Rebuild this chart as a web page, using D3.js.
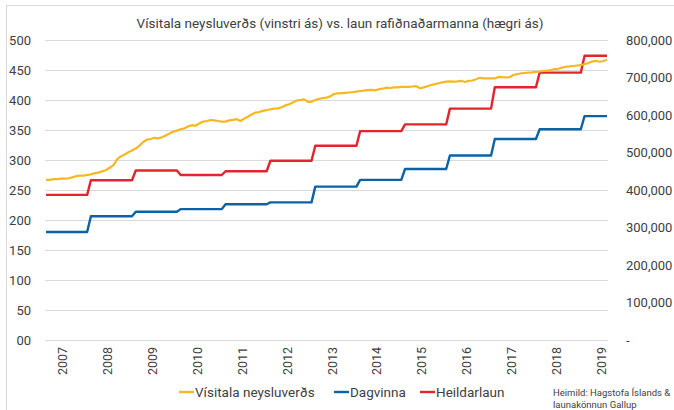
<!DOCTYPE html>
<html>
<head>
<meta charset="utf-8">
<script src="https://cdn.jsdelivr.net/npm/d3@7"></script>
<style>
  body { margin: 0; background: #fff; }
  text { font-family: "Roboto", "Noto Sans", sans-serif; fill: #404040; }
</style>
</head>
<body>
<svg id="chart" width="674" height="410"></svg>
<script>
// monthly data, first month = Sep 2006, last = Mar 2019
var startYear = 2006, startMonth = 9;

// Vísitala neysluverðs (left axis)
var cpi = [
  267, 267, 268, 268, 269, 269, 269.5, 271, 273, 274, 274, 275,        // Sep06 - Aug07
  276, 278, 279, 281, 283, 287, 291, 301, 306, 309, 313, 316,          // Sep07 - Aug08
  319, 324, 330, 334, 335, 337, 336, 338, 341, 344, 347, 349,          // Sep08 - Aug09
  351, 353, 356, 358, 357, 361, 364, 365, 366.7, 366, 365, 364,        // Sep09 - Aug10
  364, 366, 367, 368, 365, 369, 372, 376, 379, 380, 382, 383,          // Sep10 - Aug11
  384.5, 385.5, 386, 388, 391, 393, 396, 399, 400, 401, 397, 397,      // Sep11 - Aug12
  400, 402, 403, 404, 406, 410, 411, 411.5, 412, 412.5, 413, 414,      // Sep12 - Aug13
  415, 415.5, 416.5, 417, 416, 418, 419, 420.5, 420, 421, 421, 422,    // Sep13 - Aug14
  422, 422, 422.5, 423, 419.5, 421, 423, 425, 426.5, 428, 429.5, 430.5,// Sep14 - Aug15
  431, 430.5, 431, 432, 430, 432, 432.5, 434.5, 437, 436, 436, 436,    // Sep15 - Aug16
  436, 438.5, 438, 437.8, 438, 441.7, 443, 444.5, 445, 445.5, 446, 447,// Sep16 - Aug17
  447.5, 448.5, 449, 450, 451.5, 452, 454, 455.5, 456, 456.7, 457.5, 458, // Sep17 - Aug18
  460, 461.5, 464, 465.5, 463.8, 465, 466.7                            // Sep18 - Mar19
];

// wage surveys, new level each September (right axis)
var surveyYears = ["2006","2007","2008","2009","2010","2011","2012","2013","2014","2015","2016","2017","2018"];
var dagvinna    = [288000, 330000, 342000, 349000, 362000, 367000, 409000, 427000, 456000, 492000, 536000, 562000, 597000];
var heildarlaun = [387000, 426000, 452000, 440000, 450000, 478000, 518000, 557000, 575000, 617000, 674000, 713000, 758000];

var yearLabels = ["2007","2008","2009","2010","2011","2012","2013","2014","2015","2016","2017","2018","2019"];
var leftTicks  = [0, 50, 100, 150, 200, 250, 300, 350, 400, 450, 500];
var rightTicks = [0, 100000, 200000, 300000, 400000, 500000, 600000, 700000, 800000];

var colors = { cpi: "#f5b823", dag: "#0b63a5", heild: "#e3242d" };

var svg = d3.select("#chart");

// frame
svg.append("rect").attr("x", 6.5).attr("y", 5.5).attr("width", 700).attr("height", 420)
   .attr("fill", "none").attr("stroke", "#d9d9d9");

var x  = d3.scaleLinear().domain([0, cpi.length - 1]).range([46, 607]);
var yL = d3.scaleLinear().domain([0, 500]).range([340, 40]);
var yR = d3.scaleLinear().domain([0, 800000]).range([340, 40]);

// gridlines
svg.append("g").attr("transform", "translate(45,0)")
   .call(d3.axisLeft(yL).tickValues(leftTicks).tickSize(-563).tickFormat(""))
   .call(function(g) {
     g.select(".domain").remove();
     g.selectAll("line").attr("stroke", "#d9d9d9");
   });

// left axis
svg.append("g").attr("transform", "translate(31,0)")
   .call(d3.axisLeft(yL).tickValues(leftTicks).tickSize(0).tickPadding(0)
         .tickFormat(function(d) { return d === 0 ? "00" : d; }))
   .call(function(g) {
     g.select(".domain").remove();
     g.selectAll("text").attr("font-size", 13).style("font-family", null);
   });

// right axis
svg.append("g").attr("transform", "translate(626,0)")
   .call(d3.axisRight(yR).tickValues(rightTicks).tickSize(0).tickPadding(0)
         .tickFormat(function(d) { return d === 0 ? "-" : d3.format(",")(d); }))
   .call(function(g) {
     g.select(".domain").remove();
     g.selectAll("text").attr("font-size", 13).style("font-family", null);
   });

// x axis (year labels at January)
var janIdx = yearLabels.map(function(y) { return (+y - startYear) * 12 - (startMonth - 1) + 0.4; });
svg.append("g").attr("transform", "translate(0,347)")
   .call(d3.axisBottom(x).tickValues(janIdx).tickSize(0)
         .tickFormat(function(d, i) { return yearLabels[i]; }))
   .call(function(g) {
     g.select(".domain").remove();
     g.selectAll("text")
      .attr("font-size", 12.5).style("font-family", null)
      .attr("transform", "rotate(-90)")
      .attr("text-anchor", "end")
      .attr("x", 0).attr("y", 0).attr("dy", "0.35em");
   });

// step series from survey levels
function stepPoints(levels) {
  var pts = [];
  levels.forEach(function(v, k) {
    var s = k * 12, e = Math.min(k * 12 + 11, cpi.length - 1);
    pts.push([s, v]);
    pts.push([e, v]);
  });
  return pts;
}

var lineR = d3.line().x(function(d) { return x(d[0]); }).y(function(d) { return yR(d[1]); });
var lineL = d3.line().x(function(d, i) { return x(i); }).y(function(d) { return yL(d); });

svg.append("path").datum(stepPoints(dagvinna)).attr("d", lineR)
   .attr("fill", "none").attr("stroke", colors.dag).attr("stroke-width", 2.4).attr("stroke-linejoin", "round");
svg.append("path").datum(stepPoints(heildarlaun)).attr("d", lineR)
   .attr("fill", "none").attr("stroke", colors.heild).attr("stroke-width", 2.4).attr("stroke-linejoin", "round");
svg.append("path").datum(cpi).attr("d", lineL)
   .attr("fill", "none").attr("stroke", colors.cpi).attr("stroke-width", 2.2).attr("stroke-linejoin", "round");

// title
svg.append("text").attr("x", 340).attr("y", 28).attr("text-anchor", "middle")
   .attr("font-size", 13.5).text("Vísitala neysluverðs (vinstri ás) vs. laun rafiðnaðarmanna (hægri ás)");

// legend
var legend = [
  { name: "Vísitala neysluverðs", color: colors.cpi, x: 179 },
  { name: "Dagvinna", color: colors.dag, x: 334 },
  { name: "Heildarlaun", color: colors.heild, x: 420 }
];
var lg = svg.append("g").selectAll("g").data(legend).join("g")
   .attr("transform", function(d) { return "translate(" + d.x + ",392)"; });
lg.append("line").attr("x1", 0).attr("x2", 15).attr("stroke", function(d) { return d.color; }).attr("stroke-width", 2.4);
lg.append("text").attr("x", 16).attr("dy", "0.35em").attr("font-size", 13.5).text(function(d) { return d.name; });

// source
svg.append("text").attr("x", 553).attr("y", 396).attr("font-size", 9.5).text("Heimild: Hagstofa Íslands  &");
svg.append("text").attr("x", 553).attr("y", 408).attr("font-size", 9.5).text("launakönnun Gallup");
</script>
</body>
</html>
